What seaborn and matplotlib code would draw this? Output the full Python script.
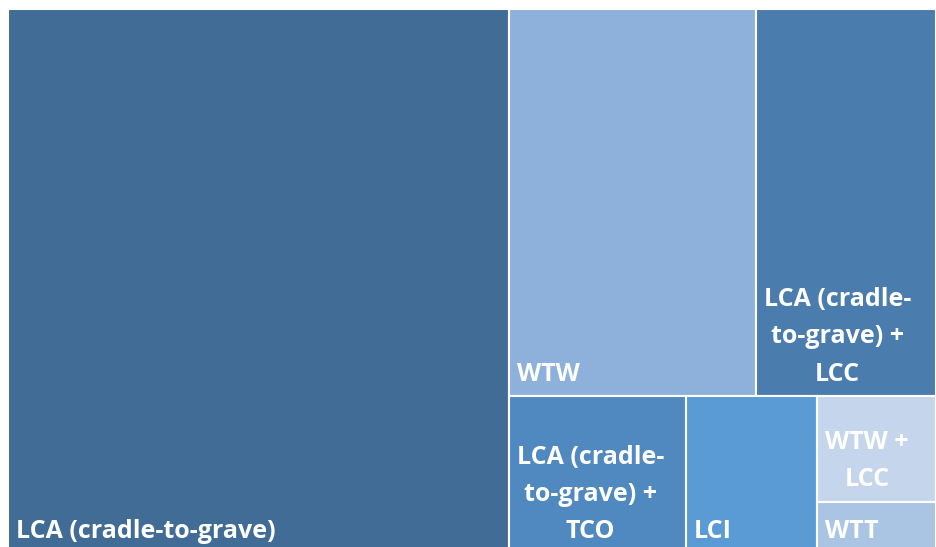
import matplotlib
matplotlib.use("Agg")
import matplotlib.pyplot as plt
from matplotlib.patches import Rectangle
import seaborn as sns

# ─── Data (share of studies, %) ───────────────────────────────────────────────
categories = [
    "LCA (cradle-to-grave)",
    "WTW",
    "LCA (cradle-to-grave) + LCC",
    "LCA (cradle-to-grave) + TCO",
    "LCI",
    "WTW + LCC",
    "WTT",
]
values = [53.3, 18.7, 13.6, 5.45, 4.05, 2.45, 1.2]
labels = [
    "LCA (cradle-to-grave)",
    "WTW",
    "LCA (cradle-\nto-grave) +\nLCC",
    "LCA (cradle-\nto-grave) +\nTCO",
    "LCI",
    "WTW +\nLCC",
    "WTT",
]
colors = ["#416C96", "#8EB1DC", "#4A7CAD", "#4F89BF", "#5B9BD5", "#C5D6EC", "#AAC4E4"]

# grouping of the tiles (indices into the lists above)
tree = [0, [[1, 2], [3, 4, [5, 6]]]]


def total(node):
    if isinstance(node, list):
        return sum(total(n) for n in node)
    return values[node]


def layout(node, x, y, w, h, out):
    """Split a rectangle along its longer side, proportionally to values."""
    if not isinstance(node, list):
        out[node] = (x, y, w, h)
        return
    s = total(node)
    for child in node:
        frac = total(child) / s
        if w >= h:
            layout(child, x, y, w * frac, h, out)
            x += w * frac
        else:
            layout(child, x, y, w, h * frac, out)
            y += h * frac


sns.set_theme(style="white")
plt.rcParams["font.family"] = ["Open Sans", "DejaVu Sans"]

# the treemap runs a little past the bottom edge of the picture
W, H = 928.0, 545.0
fig = plt.figure(figsize=(9.36, 5.47), dpi=100)
ax = fig.add_axes([8 / 936, (547 - 9 - H) / 547, W / 936, H / 547])
ax.set_xlim(0, W)
ax.set_ylim(H, 0)
ax.axis("off")

rects = {}
layout(tree, 0, 0, W, H, rects)

for i, lab in enumerate(labels):
    x, y, w, h = rects[i]
    ax.add_patch(Rectangle((x, y), w, h, facecolor=colors[i],
                           edgecolor="white", linewidth=1.5))
    ax.annotate(lab, xy=(x, y + h), xytext=(5.5, 7), textcoords="offset points",
                ha="left", va="bottom", multialignment="center",
                color="white", fontsize=18, fontweight="bold", linespacing=1.65,
                annotation_clip=False)

fig.savefig("out.png", dpi=100)
